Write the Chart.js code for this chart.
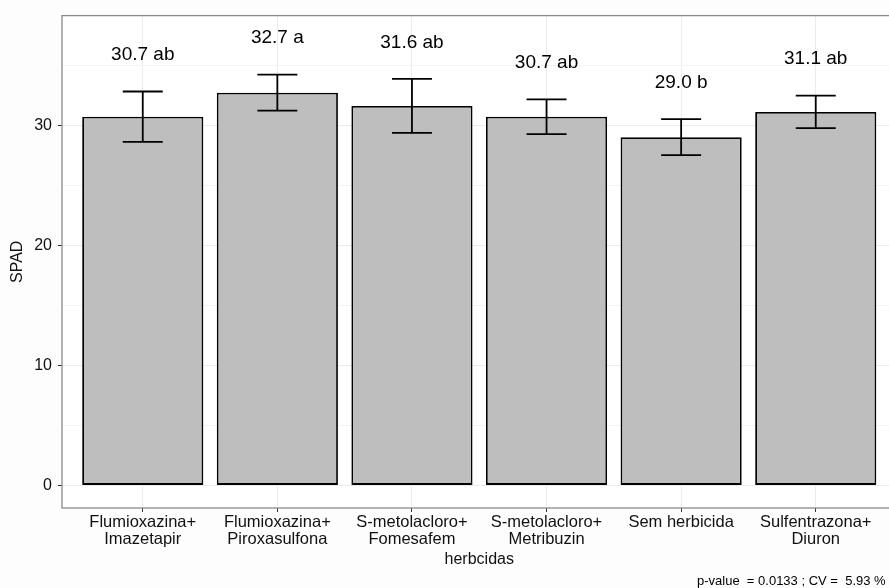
<!DOCTYPE html>
<html><head><meta charset="utf-8">
<script src="https://cdn.jsdelivr.net/npm/chart.js@4.4.0/dist/chart.umd.min.js"></script>
<style>
html,body{margin:0;padding:0;background:#fdfdfd;overflow:hidden;}
#wrap{position:relative;width:900px;height:588px;}
</style></head><body>
<div id="wrap"><canvas id="chart-spad" width="900" height="588"></canvas></div>
<script>
// SPAD por herbicida — média ± erro, letras do teste de médias.
const herbicidas=[['Flumioxazina+','Imazetapir'],['Flumioxazina+','Piroxasulfona'],['S-metolacloro+','Fomesafem'],['S-metolacloro+','Metribuzin'],'Sem herbicida',['Sulfentrazona+','Diuron']];
const spad=[30.7,32.7,31.6,30.7,29.0,31.1];
const erro=[2.1,1.5,2.25,1.45,1.5,1.35];
const letras=['ab','a','ab','ab','b','ab'];
const yMin=-1.88, yMax=39.12;
const legenda='p-value  = 0.0133 ; CV =  5.93 %';

const FONT='"Liberation Sans", Arial, sans-serif';

const bgPlugin={
  id:'bg',
  beforeDraw(chart){
    const {ctx,chartArea:a}=chart;
    ctx.save();ctx.fillStyle='#ffffff';ctx.fillRect(a.left,a.top,a.right-a.left,a.bottom-a.top);ctx.restore();
  },
  beforeDatasetsDraw(chart){
    const {ctx,chartArea:a}=chart;
    ctx.save();ctx.strokeStyle='#8a8a8a';ctx.lineWidth=1.3;
    ctx.strokeRect(a.left,a.top,a.right-a.left,a.bottom-a.top);ctx.restore();
  }
};

const errPlugin={
  id:'erros',
  afterDatasetsDraw(chart){
    const {ctx}=chart;const y=chart.scales.y;
    const meta=chart.getDatasetMeta(0);
    ctx.save();
    meta.data.forEach((bar,i)=>{
      const hi=y.getPixelForValue(spad[i]+erro[i]);
      const lo=y.getPixelForValue(spad[i]-erro[i]);
      const cap=bar.width*0.165;
      ctx.strokeStyle='#000';ctx.lineWidth=1.8;
      ctx.beginPath();
      ctx.moveTo(bar.x,hi);ctx.lineTo(bar.x,lo);
      ctx.moveTo(bar.x-cap,hi);ctx.lineTo(bar.x+cap,hi);
      ctx.moveTo(bar.x-cap,lo);ctx.lineTo(bar.x+cap,lo);
      ctx.stroke();
      ctx.fillStyle='#000';ctx.font='19px '+FONT;
      ctx.textAlign='center';ctx.textBaseline='middle';
      ctx.fillText(spad[i].toFixed(1)+' '+letras[i],bar.x,hi-36.5);
    });
    ctx.font='13px '+FONT;ctx.textAlign='left';ctx.textBaseline='middle';ctx.fillStyle='#000';
    ctx.fillText(legenda,697,581);
    ctx.restore();
  }
};

new Chart(document.getElementById('chart-spad'),{
  type:'bar',
  data:{datasets:[{
    data:spad.map((v,i)=>({x:i,y:v})),
    backgroundColor:'#bebebe',borderColor:'#000',borderWidth:1.8,borderSkipped:false,
    barPercentage:0.9,categoryPercentage:1
  }]},
  options:{
    responsive:false,animation:false,devicePixelRatio:1,
    layout:{padding:{top:14,right:3.5,left:0,bottom:0}},
    plugins:{legend:{display:false},tooltip:{enabled:false}},
    scales:{
      x:{
        type:'linear',min:-0.6,max:5.6,offset:false,
        afterFit(s){s.height=80;},
        border:{display:false},
        grid:{offset:false,color:'#ebebeb',lineWidth:1,tickLength:4,tickColor:'#333',drawTicks:true},
        ticks:{stepSize:1,includeBounds:false,autoSkip:false,maxRotation:0,padding:2,color:'#111',
          font:{family:FONT,size:16.5,lineHeight:1.03},
          callback:v=>herbicidas[v]},
        title:{display:true,text:'herbcidas',color:'#111',font:{family:FONT,size:16,lineHeight:1},padding:{top:0,bottom:20}}
      },
      y:{
        min:yMin,max:yMax,
        afterFit(s){s.width=62;},
        border:{display:false},
        grid:{color:c=>c.tick&&c.tick.value%10===0?'#ebebeb':'#f3f3f3',lineWidth:1,tickLength:4,
          tickColor:c=>c.tick&&c.tick.value%10===0?'#333':'rgba(0,0,0,0)'},
        ticks:{stepSize:5,includeBounds:false,padding:6,color:'#111',font:{family:FONT,size:16},
          callback:v=>v%10===0?String(v):''},
        title:{display:true,text:'SPAD',color:'#111',font:{family:FONT,size:16,lineHeight:1},padding:{top:10,bottom:0}}
      }
    }
  },
  plugins:[bgPlugin,errPlugin]
});
</script>
</body></html>
